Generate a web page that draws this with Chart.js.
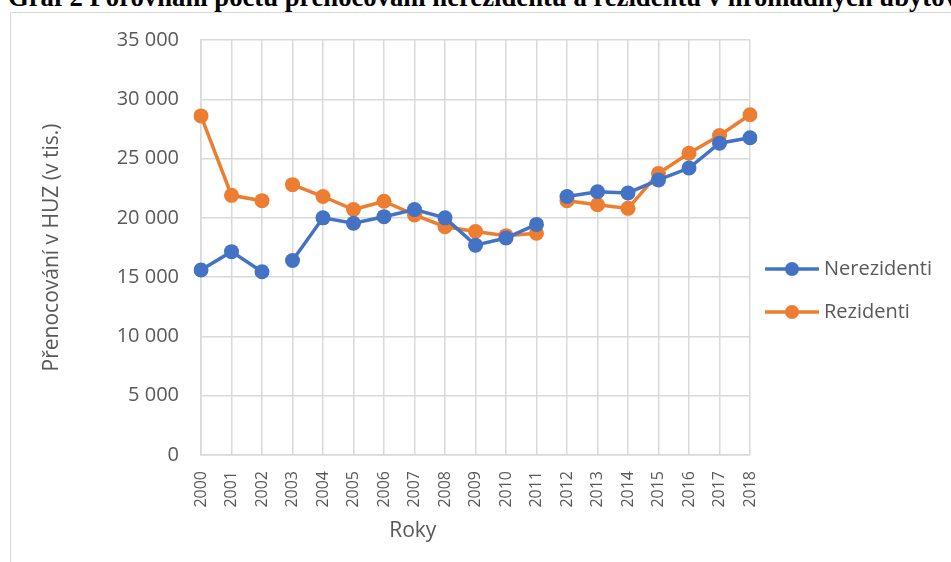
<!DOCTYPE html>
<html>
<head>
<meta charset="utf-8">
<script src="https://cdn.jsdelivr.net/npm/chart.js@4.4.1/dist/chart.umd.min.js"></script>
<style>
  body { margin: 0; background: #fff; width: 951px; height: 562px; overflow: hidden; position: relative; }
  #title { position: absolute; left: 8px; top: -14px; font-family: "Liberation Serif", serif; font-weight: bold; white-space: nowrap; color: #000; }
  #frame { position: absolute; left: 10px; top: 12px; width: 1000px; height: 600px; border: 1.5px solid #d9d9d9; }
  #box { position: absolute; left: 12px; top: 14px; width: 939px; height: 548px; }
</style>
</head>
<body>
<div id="title">Graf 2 Porovnání počtu přenocování nerezidentů a rezidentů v hromadných ubytovacích zařízeních</div>
<div id="frame"></div>
<div id="box"><canvas id="myChart" width="939" height="548"></canvas></div>
<script>
// roky a hodnoty (v tis.)
const roky = ['2000','2001','2002','2003','2004','2005','2006','2007','2008','2009',
              '2010','2011','2012','2013','2014','2015','2016','2017','2018'];
const nerezidenti = [15600, 17150, 15450, 16400, 20000, 19550, 20100, 20700, 20000, 17700,
                     18300, 19450, 21800, 22200, 22100, 23200, 24200, 26300, 26750];
const rezidenti = [28600, 21900, 21450, 22800, 21800, 20700, 21400, 20250, 19250, 18850,
                   18500, 18700, 21450, 21100, 20800, 23750, 25450, 26950, 28700];
// mezi temito roky neni cara (zlom v rade)
const zlomy = [2, 11];
const yMin = 0, yMax = 35000, yKrok = 5000;

const modra = '#4472C4';
const oranzova = '#ED7D31';
const seda = '#595959';

// nadpis je nahore oriznuty, "ubyto" konci u praveho okraje
(function() {
  const t = document.getElementById('title');
  const c = document.createElement('canvas').getContext('2d');
  c.font = 'bold 100px "Liberation Serif"';
  const w = c.measureText('Graf 2 Porovnání počtu přenocování nerezidentů a rezidentů v hromadných ubyto').width;
  const size = 100 * 937 / w;
  t.style.fontSize = size + 'px';
  t.style.lineHeight = size + 'px';
  t.style.top = (6 - 0.8375 * size) + 'px';
})();

function mezera(v) { // 35000 -> "35 000"
  return String(v).replace(/\B(?=(\d{3})+(?!\d))/g, ' ');
}

function serie(label, data, color) {
  return {
    label: label,
    data: data,
    borderColor: color,
    backgroundColor: color,
    borderWidth: 3.5,
    pointRadius: 7.5,
    pointHoverRadius: 7.5,
    pointBorderWidth: 0,
    pointStyle: 'circle',
    segment: {
      borderColor: ctx => zlomy.includes(ctx.p0DataIndex) ? 'rgba(0,0,0,0)' : undefined
    }
  };
}

// legenda jako v Excelu: cara s koleckem, vpravo od grafu
const legendaExcel = {
  id: 'legendaExcel',
  afterDraw(chart) {
    const ctx = chart.ctx;
    const x0 = chart.chartArea.right + 15;
    const yStred = 276.5, krok = 43;
    const n = chart.data.datasets.length;
    ctx.save();
    ctx.font = '20px "Open Sans"';
    ctx.textBaseline = 'middle';
    chart.data.datasets.forEach((d, i) => {
      const y = yStred + (i - (n - 1) / 2) * krok;
      ctx.strokeStyle = d.borderColor;
      ctx.lineWidth = 3.5;
      ctx.beginPath(); ctx.moveTo(x0, y); ctx.lineTo(x0 + 54, y); ctx.stroke();
      ctx.fillStyle = d.backgroundColor;
      ctx.beginPath(); ctx.arc(x0 + 27, y, 7, 0, Math.PI * 2); ctx.fill();
      ctx.fillStyle = seda;
      ctx.fillText(d.label, x0 + 59, y);
    });
    ctx.restore();
  }
};

const config = {
  type: 'line',
  data: {
    labels: roky,
    datasets: [serie('Nerezidenti', nerezidenti, modra), serie('Rezidenti', rezidenti, oranzova)]
  },
  options: {
    responsive: false,
    animation: false,
    layout: { padding: { top: 26, right: 201, bottom: 0, left: 0 } },
    plugins: {
      tooltip: { enabled: false },
      legend: { display: false }
    },
    scales: {
      x: {
        offset: false,
        grid: { color: '#d9d9d9', lineWidth: 1.5, drawTicks: false },
        border: { color: '#d9d9d9', width: 1.5 },
        ticks: {
          color: seda, font: { family: 'Open Sans', size: 16 },
          minRotation: 90, maxRotation: 90, padding: 16, autoSkip: false
        },
        title: {
          display: true, text: 'Roky' + ' '.repeat(23), color: seda,
          font: { family: 'Open Sans', size: 21 }, padding: { top: 0, bottom: 18 }
        },
        afterFit: s => { s.height = 107; }
      },
      y: {
        min: yMin, max: yMax,
        grid: { color: '#d9d9d9', lineWidth: 1.5, drawTicks: true, tickLength: 10, tickColor: 'rgba(0,0,0,0)' },
        border: { color: '#d9d9d9', width: 1.5 },
        ticks: {
          stepSize: yKrok, color: seda, font: { family: 'Open Sans', size: 20 }, padding: 12,
          callback: v => mezera(v)
        },
        title: {
          display: true, text: 'Přenocování v HUZ (v tis.)', color: seda,
          font: { family: 'Open Sans', size: 21 }, padding: { top: 27, bottom: 0 }
        },
        afterFit: s => { s.width = 189; }
      }
    }
  },
  plugins: [legendaExcel]
};

const myChart = new Chart(document.getElementById('myChart'), config);
</script>
</body>
</html>
